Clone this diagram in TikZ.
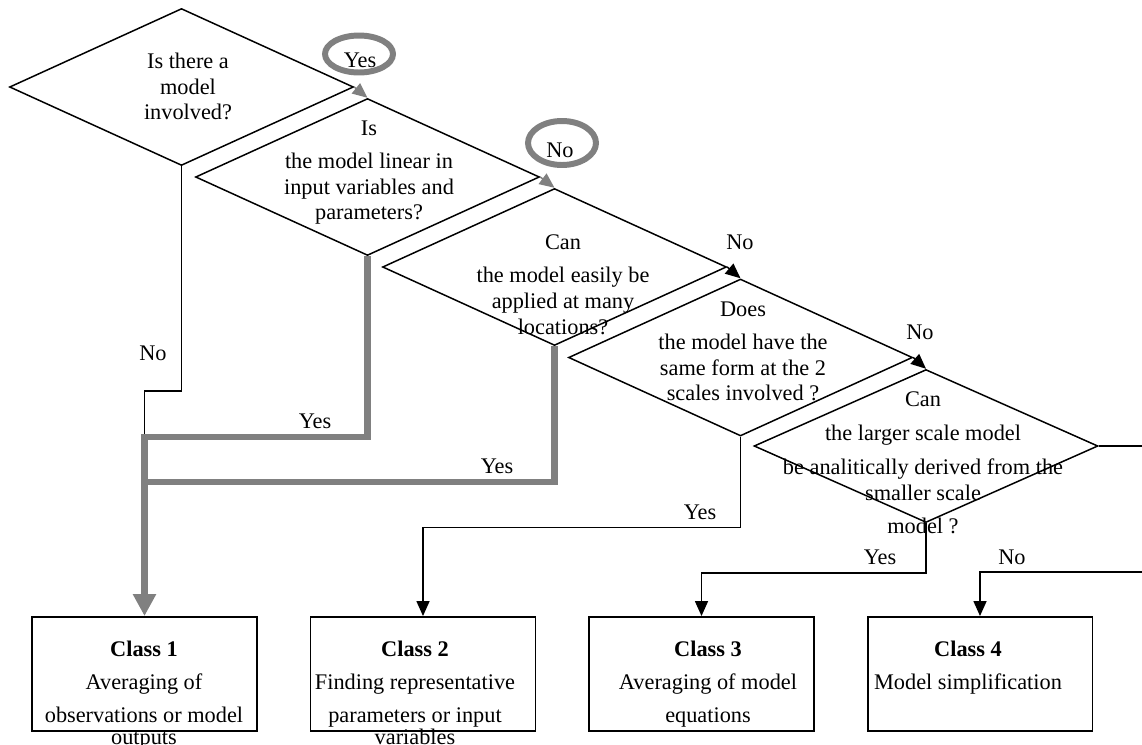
\documentclass[tikz,border=0pt]{standalone}
\usepackage{fontspec}
\setmainfont{Liberation Serif}
\usetikzlibrary{shapes.geometric, arrows.meta}

\definecolor{pathgray}{RGB}{128,128,128}

\tikzset{
    question/.style={diamond, draw, line width=0.85pt, minimum width=6.88cm, minimum height=3.14cm, inner sep=0pt},
    qtext/.style={anchor=north, align=center, inner sep=0pt, font=\fontsize{12.7}{14.7}\selectfont},
    classbox/.style={draw, line width=1.1pt, minimum width=4.5cm, minimum height=2.28cm, inner sep=0pt},
    classtext/.style={anchor=north, align=center, inner sep=0pt, font=\fontsize{12.7}{18.7}\selectfont},
    answer/.style={inner sep=0pt, font=\fontsize{12.7}{14.7}\selectfont},
    ring/.style={ellipse, draw=pathgray, line width=3.4pt, inner sep=0pt},
    flow/.style={line width=0.85pt, -{Triangle[length=0.3cm, width=0.26cm]}},
    grayflow/.style={pathgray, line width=0.85pt, -{Triangle[length=0.3cm, width=0.26cm]}},
    chosen/.style={pathgray, line width=3.7pt}
}

\begin{document}
\begin{tikzpicture}[x=0.02cm, y=-0.02cm]
    \useasboundingbox (0,0) rectangle (1142,744);

    % questions
    \node[question] (q1) at (181.5,87) {};
    \node[question] (q2) at (367.5,177) {};
    \node[question] (q3) at (554.5,267) {};
    \node[question] (q4) at (740.5,357.5) {};
    \node[question, minimum height=3.06cm] (q5) at (926,446) {};

    \node[qtext] (q1text) at (188,52.5) {Is there a\\model\\involved?};
    \node[qtext] (q2text) at (369,120.5) {Is\\[0.14cm]the model linear in\\input variables and\\parameters?};
    \node[qtext] (q3text) at (563,234.5) {Can\\[0.14cm]the model easily be\\applied at many\\locations?};
    \node[qtext] (q4text) at (743,301.5) {Does\\[0.14cm]the model have the\\same form at the 2\\scales involved ?};
    \node[qtext] (q5text) at (923,391.5) {Can\\[0.16cm]the larger scale model\\[0.16cm]be analitically derived from the\\smaller scale\\[0.16cm]model ?};

    % classes
    \node[classbox] (c1) at (144.5,674) {};
    \node[classbox] (c2) at (423,674) {};
    \node[classbox] (c3) at (701.5,674) {};
    \node[classbox] (c4) at (980,674) {};

    \node[classtext] (c1text) at (144,640.5) {\textbf{Class 1}\\Averaging of\\observations or model\\[-0.2cm]outputs};
    \node[classtext] (c2text) at (415,640.5) {\textbf{Class 2}\\Finding representative\\parameters or input\\[-0.2cm]variables};
    \node[classtext] (c3text) at (708,640.5) {\textbf{Class 3}\\Averaging of model\\equations};
    \node[classtext] (c4text) at (968,640.5) {\textbf{Class 4}\\Model simplification};

    % circled answers along the chosen route
    \node[ring, minimum width=1.36cm, minimum height=0.74cm] (ring1) at (359,54) {};
    \node[ring, minimum width=1.36cm, minimum height=0.88cm] (ring2) at (562,143) {};
    \node[answer] (yes1) at (360,60) {Yes};
    \node[answer] (no1) at (560,150) {No};

    \coordinate (kink) at (144.5,391);
    \coordinate (join1) at (144.5,437);
    \coordinate (join2) at (144.5,482);
    \coordinate (edge) at (1160,572);

    % connectors
    \draw[grayflow] (q1.east) -- (q2.north);
    \draw[grayflow] (q2.east) -- (q3.north);
    \draw[flow] (q3.east) -- (q4.north);
    \draw[flow] (q4.east) -- (q5.north);

    \draw[line width=0.85pt] (q1.south) |- (kink) -- (join1);
    \draw[chosen, -{Triangle[length=0.44cm, width=0.44cm]}] (q2.south) |- (join1) -- (c1.north);
    \draw[chosen] (q3.south) |- (join2);

    \draw[flow] (q4.south) -- ++(0,91) -| (c2.north);
    \draw[flow] (q5.south) -- ++(0,50) -| (c3.north);
    \draw[flow] (q5.east) -| (edge) -| (c4.north);

    % answer labels
    \node[answer] (no2) at (153,353) {No};
    \node[answer] (yes2) at (315,421) {Yes};
    \node[answer] (yes3) at (497,466) {Yes};
    \node[answer] (no3) at (740,242) {No};
    \node[answer] (no4) at (920,332) {No};
    \node[answer] (yes4) at (700,512) {Yes};
    \node[answer] (yes5) at (880,557) {Yes};
    \node[answer] (no5) at (1012,557) {No};
\end{tikzpicture}
\end{document}
